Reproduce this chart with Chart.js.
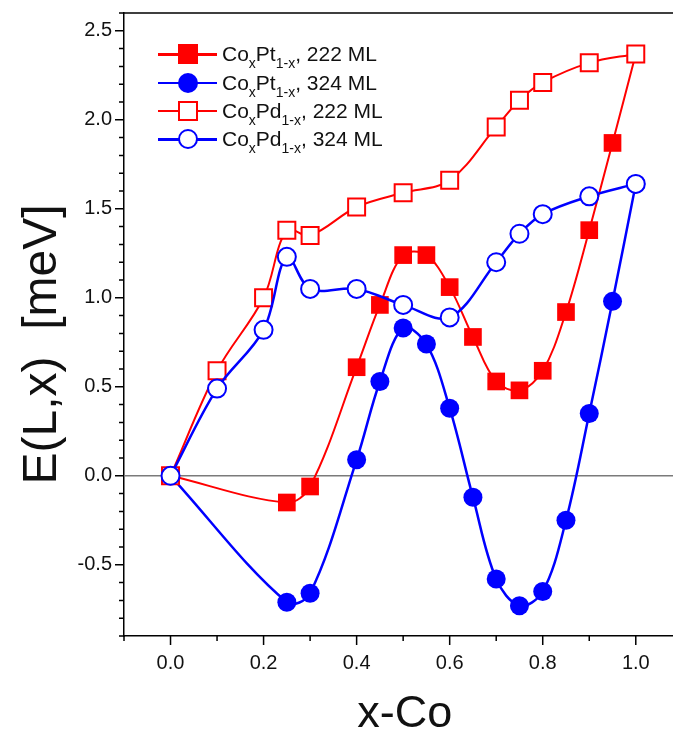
<!DOCTYPE html>
<html>
<head>
<meta charset="utf-8">
<script src="https://cdn.jsdelivr.net/npm/chart.js@4.4.1/dist/chart.umd.min.js"></script>
<style>
  body { margin: 0; background: #fff; }
  #wrap { position: relative; width: 673px; height: 735px; }
  #legend { position: absolute; left: 158px; top: 40px; font-family: 'Liberation Sans', Arial, sans-serif; font-size: 21px; color: #111; }
  .row { height: 28.4px; display: flex; align-items: center; white-space: nowrap; }
  .key { position: relative; width: 59px; height: 22px; margin-right: 5px; }
  .key .ln { position: absolute; left: 0; right: 0; top: 10px; height: 2.5px; }
  .key .mk { position: absolute; left: 20px; top: 1px; width: 20px; height: 20px; box-sizing: border-box; }
  sub { font-size: 14px; vertical-align: -7px; line-height: 0; }
</style>
</head>
<body>
<div id="wrap">
  <canvas id="chart" width="673" height="735"></canvas>
  <div id="legend"></div>
</div>
<script>
// x-Co composition and E(L,x) values
const xPt = [0, 0.25, 0.3, 0.4, 0.45, 0.5, 0.55, 0.6, 0.65, 0.7, 0.75, 0.8, 0.85, 0.9, 0.95, 1.0];
const ePt222 = [0, -0.15, -0.06, 0.61, 0.96, 1.24, 1.24, 1.06, 0.78, 0.53, 0.48, 0.59, 0.92, 1.38, 1.87, 2.37];
const ePt324 = [0, -0.71, -0.66, 0.09, 0.53, 0.83, 0.74, 0.38, -0.12, -0.58, -0.73, -0.65, -0.25, 0.35, 0.98, 1.64];

const xPd = [0, 0.1, 0.2, 0.25, 0.3, 0.4, 0.5, 0.6, 0.7, 0.75, 0.8, 0.9, 1.0];
const ePd222 = [0, 0.59, 1.0, 1.38, 1.35, 1.51, 1.59, 1.66, 1.96, 2.11, 2.21, 2.32, 2.37];
const ePd324 = [0, 0.49, 0.82, 1.23, 1.05, 1.05, 0.96, 0.89, 1.2, 1.36, 1.47, 1.57, 1.64];

const seriesNames = [
    'Co<sub>x</sub>Pt<sub>1-x</sub>, 222 ML',
    'Co<sub>x</sub>Pt<sub>1-x</sub>, 324 ML',
    'Co<sub>x</sub>Pd<sub>1-x</sub>, 222 ML',
    'Co<sub>x</sub>Pd<sub>1-x</sub>, 324 ML'
];

const RED = '#ff0000';
const BLUE = '#0000ff';
const FONT = "'Liberation Sans', Arial, sans-serif";

const toPoints = (xs, ys) => xs.map((x, i) => ({ x: x, y: ys[i] }));

// minor/major tick marks, top frame line and the zero line
const axisMarks = {
    id: 'axisMarks',
    beforeDatasetsDraw(chart) {
        const { ctx, chartArea, scales } = chart;
        const y0 = scales.y.getPixelForValue(0);
        ctx.save();
        ctx.strokeStyle = '#7a7a7a';
        ctx.lineWidth = 1.5;
        ctx.beginPath();
        ctx.moveTo(chartArea.left, y0);
        ctx.lineTo(chartArea.right, y0);
        ctx.stroke();
        ctx.restore();
    },
    afterDraw(chart) {
        const { ctx, chartArea, scales } = chart;
        ctx.save();
        ctx.strokeStyle = '#000';
        ctx.lineWidth = 1.5;
        ctx.beginPath();
        ctx.moveTo(chartArea.left, chartArea.top);
        ctx.lineTo(chartArea.right, chartArea.top);
        scales.x.ticks.forEach(t => {
            const px = scales.x.getPixelForValue(t.value);
            const len = t.label !== '' ? 9 : 5;
            ctx.moveTo(px, chartArea.bottom);
            ctx.lineTo(px, chartArea.bottom + len);
        });
        scales.y.ticks.forEach(t => {
            const py = scales.y.getPixelForValue(t.value);
            const len = t.label !== '' ? 9 : 5;
            ctx.moveTo(chartArea.left, py);
            ctx.lineTo(chartArea.left - len, py);
        });
        ctx.stroke();
        ctx.restore();
    }
};

const noPad = scale => {
    scale.paddingLeft = 0;
    scale.paddingRight = 0;
    scale.paddingTop = 0;
    scale.paddingBottom = 0;
};

const config = {
    type: 'line',
    data: {
        datasets: [
            {
                label: 'CoxPt1-x, 222 ML',
                data: toPoints(xPt, ePt222),
                borderColor: RED,
                borderWidth: 2,
                pointStyle: 'rect',
                pointRadius: 12.5,
                pointBackgroundColor: RED,
                pointBorderColor: RED,
                pointBorderWidth: 0,
                tension: 0.35,
                order: 4
            },
            {
                label: 'CoxPt1-x, 324 ML',
                data: toPoints(xPt, ePt324),
                borderColor: BLUE,
                borderWidth: 2.5,
                pointStyle: 'circle',
                pointRadius: 9.5,
                pointBackgroundColor: BLUE,
                pointBorderColor: BLUE,
                pointBorderWidth: 0,
                tension: 0.35,
                order: 3
            },
            {
                label: 'CoxPd1-x, 222 ML',
                data: toPoints(xPd, ePd222),
                borderColor: RED,
                borderWidth: 2,
                pointStyle: 'rect',
                pointRadius: 12,
                pointBackgroundColor: '#fff',
                pointBorderColor: RED,
                pointBorderWidth: 2,
                tension: 0.35,
                order: 2
            },
            {
                label: 'CoxPd1-x, 324 ML',
                data: toPoints(xPd, ePd324),
                borderColor: BLUE,
                borderWidth: 2.5,
                pointStyle: 'circle',
                pointRadius: 9,
                pointBackgroundColor: '#fff',
                pointBorderColor: BLUE,
                pointBorderWidth: 2,
                tension: 0.35,
                order: 1
            }
        ]
    },
    options: {
        responsive: false,
        animation: false,
        events: [],
        layout: { autoPadding: false, padding: { top: 13, right: 0, left: 0, bottom: 0 } },
        plugins: {
            legend: { display: false },
            tooltip: { enabled: false }
        },
        scales: {
            x: {
                type: 'linear',
                min: -0.1,
                max: 1.08,
                grid: { display: false, drawTicks: true, tickLength: 9 },
                border: { display: true, color: '#000', width: 1.5 },
                ticks: {
                    stepSize: 0.1,
                    includeBounds: false,
                    autoSkip: false,
                    maxRotation: 0,
                    padding: 6,
                    color: '#111',
                    font: { family: FONT, size: 20 },
                    callback: v => Math.round(v * 10) % 2 === 0 ? v.toFixed(1) : ''
                },
                title: {
                    display: true,
                    text: '\u00a0x-Co',
                    color: '#111',
                    font: { family: FONT, size: 45, lineHeight: 1 },
                    padding: { top: 0, bottom: -2 }
                },
                afterFit: scale => { scale.height = 99; noPad(scale); }
            },
            y: {
                min: -0.9,
                max: 2.6,
                grid: { display: false, drawTicks: true, tickLength: 9 },
                border: { display: true, color: '#000', width: 1.5 },
                ticks: {
                    stepSize: 0.1,
                    includeBounds: false,
                    autoSkip: false,
                    padding: 3,
                    color: '#111',
                    font: { family: FONT, size: 20 },
                    callback: v => Math.round(v * 10) % 5 === 0 ? v.toFixed(1) : ''
                },
                title: {
                    display: true,
                    text: 'E(L,x)  [meV]\u00a0\u00a0\u00a0',
                    color: '#111',
                    font: { family: FONT, size: 48, lineHeight: 1 },
                    padding: { top: 19, bottom: 0 }
                },
                afterFit: scale => { scale.width = 124; noPad(scale); }
            }
        }
    },
    plugins: [axisMarks]
};

const chart = new Chart(document.getElementById('chart'), config);

// legend with subscripts, built from the datasets
const legend = document.getElementById('legend');
chart.data.datasets.forEach((ds, i) => {
    const row = document.createElement('div');
    row.className = 'row';
    const round = ds.pointStyle === 'circle';
    const mk = 'background:' + ds.pointBackgroundColor + ';border:' +
        (ds.pointBorderWidth ? ds.pointBorderWidth + 'px solid ' + ds.pointBorderColor : 'none') +
        (round ? ';border-radius:50%' : '');
    row.innerHTML = '<div class="key"><div class="ln" style="background:' + ds.borderColor +
        '"></div><div class="mk" style="' + mk + '"></div></div><span>' + seriesNames[i] + '</span>';
    legend.appendChild(row);
});
</script>
</body>
</html>
